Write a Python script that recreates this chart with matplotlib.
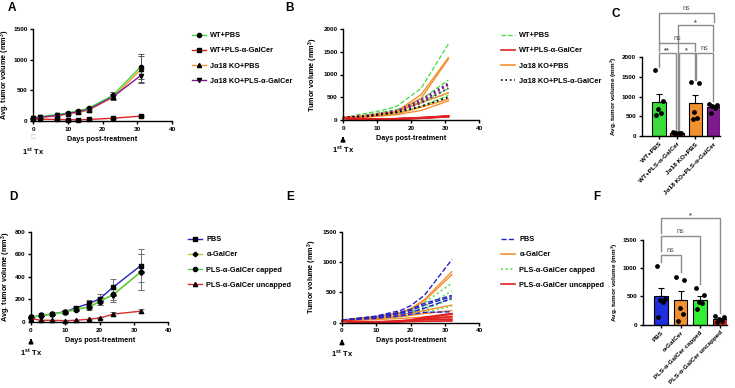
import numpy as np
import matplotlib
matplotlib.use('Agg')
import matplotlib.pyplot as plt
from matplotlib.lines import Line2D

plt.rcParams['font.family'] = ['Liberation Sans', 'DejaVu Sans']
plt.rcParams['font.weight'] = 'bold'
plt.rcParams['axes.labelweight'] = 'bold'
plt.rcParams['mathtext.default'] = 'regular'

W, H = 735, 388

# ---------------- data ----------------
# panel A : group means
days_a = [0, 2, 7, 10, 13, 16, 23, 31]
a_labels = ['WT+PBS', 'WT+PLS-α-GalCer', 'Jα18 KO+PBS', 'Jα18 KO+PLS-α-GalCer']
a_means = [
    [50, 70, 105, 130, 165, 210, 420, 885],
    [40, 30, 25, 20, 20, 25, 45, 80],
    [50, 60, 85, 115, 140, 175, 385, 840],
    [45, 60, 90, 120, 150, 190, 395, 740],
]
a_sem = [
    [5, 8, 12, 15, 20, 25, 45, 200],
    [3, 3, 3, 3, 3, 3, 5, 10],
    [5, 8, 12, 15, 20, 25, 40, 220],
    [5, 8, 10, 12, 15, 20, 40, 100],
]

# panel B : individual mice (days_a)
b_wt_pbs = [
    [50, 80, 150, 190, 240, 310, 700, 1670],
    [50, 70, 110, 150, 190, 230, 450, 880],
    [45, 60, 90, 120, 160, 200, 400, 690],
    [55, 70, 100, 130, 160, 200, 380, 590],
    [45, 60, 80, 110, 130, 160, 300, 540],
]
b_wt_pls = [
    [40, 30, 25, 20, 20, 25, 50, 90],
    [45, 35, 30, 20, 20, 30, 50, 80],
    [40, 30, 20, 15, 15, 20, 40, 75],
    [35, 30, 25, 20, 25, 25, 45, 70],
    [40, 25, 20, 20, 20, 25, 40, 85],
]
b_ko_pbs = [
    [50, 60, 90, 120, 150, 200, 560, 1370],
    [50, 60, 80, 120, 150, 190, 480, 1340],
    [55, 70, 100, 130, 160, 190, 380, 600],
    [45, 50, 70, 90, 110, 140, 280, 460],
    [50, 55, 70, 80, 100, 120, 210, 420],
]
b_ko_pls = [
    [45, 60, 100, 130, 170, 210, 450, 810],
    [50, 65, 90, 120, 150, 190, 420, 790],
    [45, 60, 90, 120, 150, 200, 400, 770],
    [40, 55, 85, 110, 140, 180, 370, 700],
    [45, 60, 80, 110, 140, 170, 300, 500],
]

# panel C : bars
c_cats = ['WT+PBS', 'WT+PLS-α-GalCer', 'Jα18 KO+PBS', 'Jα18 KO+PLS-α-GalCer']
c_means = [874, 80, 838, 738]
c_sem = [205, 20, 215, 55]
c_dots = [
    [1670, 880, 690, 590, 540],
    [90, 80, 75, 70, 85],
    [1370, 1350, 600, 460, 420],
    [810, 790, 770, 700, 590],
]

# panel D : group means
days_d = [0, 3, 6, 10, 13, 17, 20, 24, 32]
d_labels = ['PBS', 'α-GalCer', 'PLS-α-GalCer capped', 'PLS-α-GalCer uncapped']
d_means = [
    [40, 60, 70, 92, 125, 165, 205, 310, 500],
    [40, 58, 68, 88, 115, 135, 190, 240, 442],
    [40, 57, 70, 85, 110, 130, 180, 245, 446],
    [30, 15, 15, 12, 15, 25, 35, 70, 96],
]
d_sem = [
    [5, 6, 8, 10, 20, 30, 40, 70, 150],
    [5, 6, 8, 10, 15, 20, 35, 60, 160],
    [5, 6, 8, 10, 15, 20, 30, 50, 160],
    [3, 3, 3, 3, 3, 5, 8, 18, 20],
]

# panel E : individual mice (days_d)
e_pbs = [
    [40, 60, 80, 110, 150, 200, 280, 450, 1040],
    [40, 55, 75, 100, 130, 170, 220, 320, 450],
    [45, 60, 80, 100, 130, 160, 200, 290, 430],
    [40, 60, 70, 90, 110, 140, 170, 240, 400],
    [35, 50, 60, 70, 90, 110, 140, 170, 180],
]
e_agal = [
    [40, 60, 80, 100, 130, 170, 230, 380, 840],
    [40, 55, 75, 95, 120, 160, 220, 360, 790],
    [40, 55, 65, 80, 100, 120, 160, 200, 290],
    [35, 50, 60, 70, 80, 100, 120, 150, 200],
    [35, 40, 45, 50, 60, 70, 80, 90, 90],
]
e_capped = [
    [40, 60, 75, 100, 130, 160, 210, 330, 650],
    [40, 55, 70, 90, 110, 140, 180, 270, 520],
    [40, 55, 65, 85, 100, 120, 160, 230, 400],
    [45, 60, 70, 85, 105, 125, 170, 220, 390],
    [35, 50, 60, 70, 85, 100, 130, 180, 270],
]
e_uncapped = [
    [30, 15, 15, 15, 20, 30, 45, 90, 150],
    [30, 20, 15, 10, 15, 25, 40, 80, 140],
    [25, 15, 15, 10, 15, 20, 30, 60, 100],
    [30, 15, 10, 10, 10, 20, 30, 50, 60],
    [25, 10, 10, 10, 10, 15, 20, 25, 30],
]

# panel F : bars
f_cats = ['PBS', 'α-GalCer', 'PLS-α-GalCer capped', 'PLS-α-GalCer uncapped']
f_means = [500, 442, 446, 96]
f_sem = [150, 150, 70, 25]
f_dots = [
    [1040, 450, 430, 400, 130],
    [840, 790, 290, 190, 60],
    [650, 520, 400, 390, 270],
    [150, 130, 100, 60, 40],
]

# ---------------- style ----------------
GREEN = '#3ddc3d'
RED = '#e02222'
ORANGE = '#f39130'
PURPLE = '#7d1a8c'
BLUE = '#2222c8'
OLIVE = '#c3c43a'
a_colors = [GREEN, RED, ORANGE, PURPLE]
a_markers = ['o', 's', '^', 'v']
d_colors = [BLUE, OLIVE, '#4fd24f', '#d43030']
d_markers = ['s', 'P', 'o', '^']
jitter = [-0.22, 0.2, -0.05, 0.12, -0.15]
FT = 4.6    # tick labels
FL = 5.2    # axis labels
FG = 5.3    # legend


def rect(l, t, r, b):
    return [l / W, 1 - b / H, (r - l) / W, (b - t) / H]


def style(ax):
    for s in ['top', 'right']:
        ax.spines[s].set_visible(False)
    for s in ['left', 'bottom']:
        ax.spines[s].set_linewidth(1.0)
    ax.tick_params(labelsize=FT, length=2.5, width=1, pad=1.5)
    for t in ax.get_xticklabels() + ax.get_yticklabels():
        t.set_fontweight('bold')


def tx_note(ax, y1, y2, arrow=True):
    # "1st Tx" marker below day 0
    if arrow:
        ax.annotate('', xy=(0, y1 + 0.04), xycoords=('data', 'axes fraction'),
                    xytext=(0, y1 - 0.045), textcoords=('data', 'axes fraction'),
                    arrowprops=dict(arrowstyle='-|>', color='black', lw=1.3, mutation_scale=6),
                    annotation_clip=False)
    else:
        ax.text(0, y1, '□', transform=ax.get_xaxis_transform(), ha='center', va='center',
                fontsize=5.5, color='#bbbbbb', fontweight='normal')
    ax.text(0, y2, '1$^{st}$ Tx', transform=ax.get_xaxis_transform(), ha='center', va='center',
            fontsize=FL + 0.3, fontweight='bold')


def bracket(ax, x1, x2, y, yb1, yb2, label, dy):
    ax.plot([x1, x1, x2, x2], [yb1, y, y, yb2], color='#8c8c8c', lw=1.0, clip_on=False)
    ax.text((x1 + x2) / 2, y + dy, label, ha='center', va='bottom', fontsize=FL,
            color='#555555', fontweight='normal' if label == 'ns' else 'bold')


fig = plt.figure(figsize=(W / 100, H / 100), dpi=100)

# ---------------- A ----------------
ax = fig.add_axes(rect(33, 29, 172, 121))
for m, e, c, mk, lab in zip(a_means, a_sem, a_colors, a_markers, a_labels):
    ax.errorbar(days_a, m, yerr=e, color=c, lw=1.0, marker=mk, ms=3, mfc='black', mec='black',
                ecolor='#555555', elinewidth=0.7, capsize=2, capthick=0.7, clip_on=False, label=lab)
ax.set_xlim(0, 40)
ax.set_ylim(0, 1500)
ax.set_xticks([0, 10, 20, 30, 40])
ax.set_yticks([0, 500, 1000, 1500])
ax.set_xlabel('Days post-treatment', fontsize=FL, labelpad=3)
ax.set_ylabel('Avg. tumor volume (mm$^3$)', fontsize=FL, labelpad=0.6)
style(ax)
tx_note(ax, -0.175, -0.33, arrow=False)
hA = [Line2D([], [], color=c, lw=1, marker=mk, ms=3, mfc='black', mec='black')
      for c, mk in zip(a_colors, a_markers)]
fig.legend(hA, a_labels, loc='upper left', bbox_to_anchor=(189 / W, 1 - 29 / H), frameon=False,
           fontsize=FG, handlelength=1.9, handletextpad=0.6, labelspacing=1.1, borderaxespad=0)

# ---------------- B ----------------
ax = fig.add_axes(rect(343, 29, 479, 120))
groups_b = [(b_wt_pbs, GREEN, '--', 0.9), (b_ko_pbs, ORANGE, '-', 1.0),
            (b_ko_pls, PURPLE, ':', 1.3), (b_wt_pls, RED, '-', 1.3)]
for mice, c, ls, lw in groups_b:
    for i, y in enumerate(mice):
        col = 'black' if (ls == ':' and i == len(mice) - 1) else c
        ax.plot(days_a, y, color=col, ls=ls, lw=lw, clip_on=False)
ax.set_xlim(0, 40)
ax.set_ylim(0, 2000)
ax.set_xticks([0, 10, 20, 30, 40])
ax.set_yticks([0, 500, 1000, 1500, 2000])
ax.set_xlabel('Days post-treatment', fontsize=FL, labelpad=3)
ax.set_ylabel('Tumor volume (mm$^3$)', fontsize=FL, labelpad=2)
style(ax)
tx_note(ax, -0.19, -0.33)
hB = [Line2D([], [], color=GREEN, ls='--', lw=0.9), Line2D([], [], color=RED, lw=1.2),
      Line2D([], [], color=ORANGE, lw=1.2), Line2D([], [], color='black', ls=':', lw=1.2)]
fig.legend(hB, a_labels, loc='upper left', bbox_to_anchor=(498 / W, 1 - 29 / H), frameon=False,
           fontsize=FG, handlelength=1.9, handletextpad=0.6, labelspacing=1.1, borderaxespad=0)

# ---------------- C ----------------
ax = fig.add_axes(rect(641.7, 57.3, 720, 136))
xc = np.arange(len(c_cats))
ax.bar(xc, c_means, width=0.74, color=a_colors, edgecolor='black', lw=0.8, zorder=1)
ax.errorbar(xc, c_means, yerr=[np.zeros(4), c_sem], fmt='none', ecolor='black',
            elinewidth=0.8, capsize=2.5, capthick=0.8, zorder=2)
for i, pts in enumerate(c_dots):
    ax.scatter(xc[i] + np.array(jitter), pts, s=6, color='black', zorder=3, clip_on=False)
ax.set_xlim(-0.96, 3.37)
ax.set_ylim(0, 2000)
ax.set_yticks([0, 500, 1000, 1500, 2000])
ax.set_xticks(xc)
ax.set_xticklabels(c_cats, rotation=45, ha='right', rotation_mode='anchor')
ax.set_ylabel('Avg. tumor volume (mm$^3$)', fontsize=FT, labelpad=2)
style(ax)
bracket(ax, -0.02, 0.92, 2110, 1760, 150, '**', -20)
bracket(ax, 1.08, 1.96, 2110, 150, 1420, '*', -20)
bracket(ax, 2.04, 2.98, 2110, 1420, 900, 'ns', 30)
bracket(ax, 0.0, 1.98, 2365, 2170, 2170, 'ns', 30)
bracket(ax, 1.02, 3.0, 2820, 150, 2170, '*', -20)
bracket(ax, 0.0, 3.02, 3125, 2400, 2900, 'ns', 30)

# ---------------- D ----------------
ax = fig.add_axes(rect(31, 231.7, 168.3, 322))
for m, e, c, mk, lab in zip(d_means, d_sem, d_colors, d_markers, d_labels):
    ax.errorbar(days_d, m, yerr=e, color=c, lw=1.0, marker=mk, ms=3 if mk != 'P' else 3.5,
                mfc='black', mec='black', ecolor='#707070', elinewidth=0.7, capsize=2,
                capthick=0.7, clip_on=False, label=lab)
ax.set_xlim(0, 40)
ax.set_ylim(0, 800)
ax.set_xticks([0, 10, 20, 30, 40])
ax.set_yticks([0, 200, 400, 600, 800])
ax.set_xlabel('Days post-treatment', fontsize=FL, labelpad=3)
ax.set_ylabel('Avg. tumor volume (mm$^3$)', fontsize=FL, labelpad=1.5)
style(ax)
tx_note(ax, -0.19, -0.34)
hD = [Line2D([], [], color=c, lw=1, marker=mk, ms=3, mfc='black', mec='black')
      for c, mk in zip(d_colors, d_markers)]
fig.legend(hD, d_labels, loc='upper left', bbox_to_anchor=(185 / W, 1 - 233 / H), frameon=False,
           fontsize=FG, handlelength=1.9, handletextpad=0.6, labelspacing=1.1, borderaxespad=0)

# ---------------- E ----------------
ax = fig.add_axes(rect(342, 231.7, 479.3, 322.7))
groups_e = [(e_capped, '#55e055', ':', 1.3), (e_agal, ORANGE, '-', 1.0),
            (e_pbs, BLUE, '--', 1.0), (e_uncapped, RED, '-', 1.3)]
for mice, c, ls, lw in groups_e:
    for y in mice:
        ax.plot(days_d, y, color=c, ls=ls, lw=lw, clip_on=False)
ax.set_xlim(0, 40)
ax.set_ylim(0, 1500)
ax.set_xticks([0, 10, 20, 30, 40])
ax.set_yticks([0, 500, 1000, 1500])
ax.set_xlabel('Days post-treatment', fontsize=FL, labelpad=3)
ax.set_ylabel('Tumor volume (mm$^3$)', fontsize=FL, labelpad=2)
style(ax)
tx_note(ax, -0.19, -0.34)
hE = [Line2D([], [], color=BLUE, ls='--', lw=1), Line2D([], [], color=ORANGE, lw=1.2),
      Line2D([], [], color='#55e055', ls=':', lw=1.3), Line2D([], [], color=RED, lw=1.2)]
fig.legend(hE, d_labels, loc='upper left', bbox_to_anchor=(498 / W, 1 - 233 / H), frameon=False,
           fontsize=FG, handlelength=1.9, handletextpad=0.6, labelspacing=1.1, borderaxespad=0)

# ---------------- F ----------------
ax = fig.add_axes(rect(642.7, 240, 727, 324.7))
xf = np.arange(len(f_cats))
f_colors = ['#1f2fe0', ORANGE, '#33ee33', RED]
ax.bar(xf, f_means, width=0.71, color=f_colors, edgecolor='black', lw=0.8, zorder=1)
ax.errorbar(xf, f_means, yerr=[np.zeros(4), f_sem], fmt='none', ecolor='black',
            elinewidth=0.8, capsize=2.5, capthick=0.8, zorder=2)
for i, pts in enumerate(f_dots):
    ax.scatter(xf[i] + np.array(jitter), pts, s=6, color='black', zorder=3, clip_on=False)
ax.set_xlim(-0.93, 3.37)
ax.set_ylim(0, 1500)
ax.set_yticks([0, 500, 1000, 1500])
ax.set_xticks(xf)
ax.set_xticklabels(f_cats, rotation=45, ha='right', rotation_mode='anchor')
ax.set_ylabel('Avg. tumor volume (mm$^3$)', fontsize=FT, labelpad=2)
style(ax)
bracket(ax, 0.0, 1.0, 1235, 1110, 940, 'ns', 20)
bracket(ax, 0.0, 2.0, 1570, 1300, 720, 'ns', 20)
bracket(ax, 0.0, 3.0, 1885, 1620, 210, '*', -25)

# panel letters
for lab, x, y in [('A', 12, 8), ('B', 290, 8), ('C', 616, 14),
                  ('D', 13, 197), ('E', 290, 197), ('F', 597, 197)]:
    fig.text(x / W, 1 - y / H, lab, fontsize=8.5, fontweight='bold', ha='center', va='center')

fig.savefig('out.png', dpi=100)
